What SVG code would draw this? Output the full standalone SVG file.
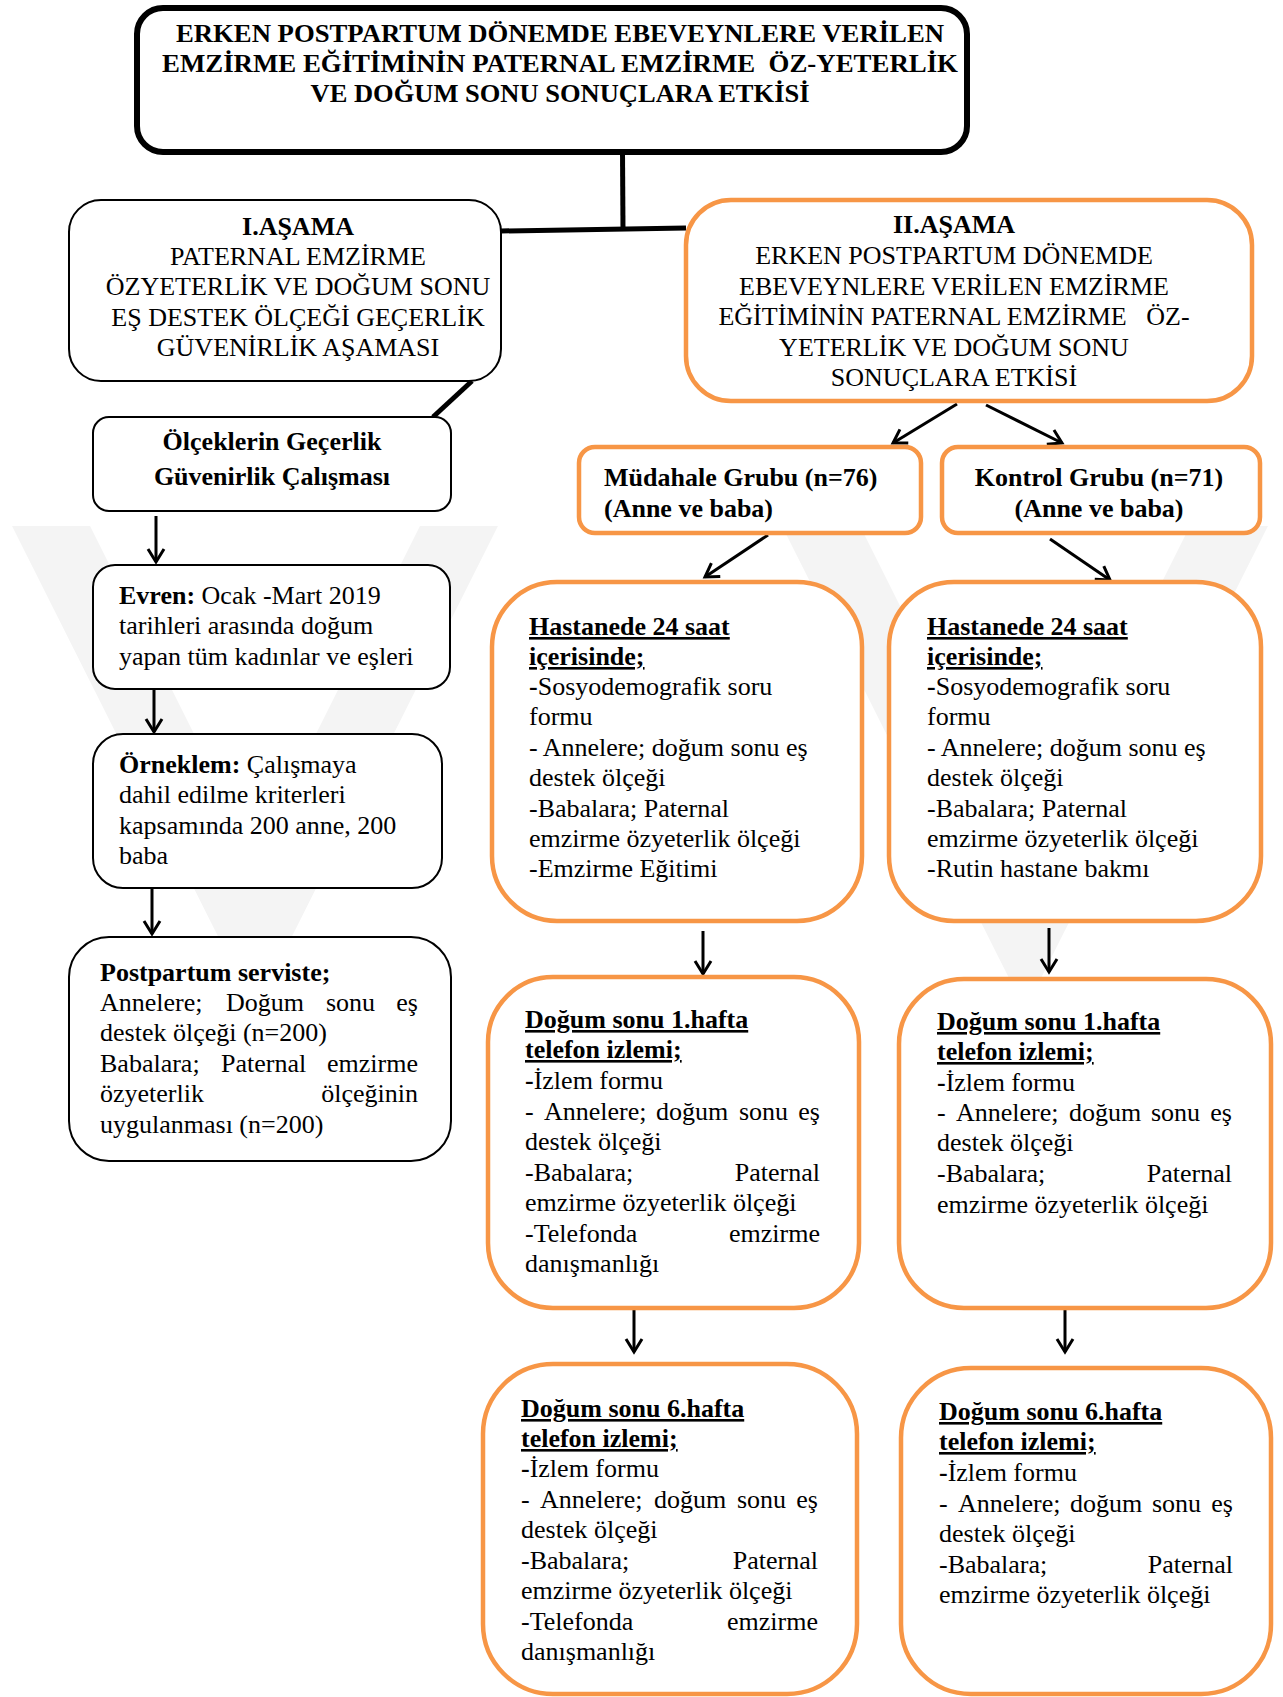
<svg xmlns="http://www.w3.org/2000/svg" width="1283" height="1697" viewBox="0 0 1283 1697">
<style>
.bk{fill:#fff;stroke:#000;stroke-width:2}
.tt{fill:#fff;stroke:#000;stroke-width:6}
.or{fill:#fff;stroke:#F79646;stroke-width:4.5}
.t{font-family:"Liberation Serif","Times New Roman",serif;font-size:26px;fill:#000}
.b{font-weight:bold}
.u{text-decoration:underline}
.c{text-anchor:middle}
.e{text-anchor:end}
.thick{stroke:#000;stroke-width:5;fill:none}
.ar{stroke:#000;stroke-width:3;fill:none;marker-end:url(#ah)}
.wm{fill:#f4f4f4}
</style>
<defs>
<marker id="ah" viewBox="0 0 20 20" refX="17" refY="10" markerWidth="20" markerHeight="20" markerUnits="userSpaceOnUse" orient="auto">
<path d="M4,2 L17,10 L4,18" fill="none" stroke="#000" stroke-width="3"/>
</marker>
</defs>
<rect width="1283" height="1697" fill="#fff"/>
<g id="watermark">
<polygon class="wm" points="12,526 90,526 255,856 420,526 498,526 255,1010"/>
<polygon class="wm" points="782,526 860,526 1025,856 1190,526 1268,526 1025,1010"/>
</g>
<g id="connectors">
<line class="thick" x1="622.5" y1="152" x2="623" y2="230"/>
<line class="thick" x1="501" y1="231" x2="686" y2="228"/>
<line class="thick" x1="472" y1="381" x2="433" y2="417"/>
<line class="ar" x1="156" y1="516" x2="156" y2="562"/>
<line class="ar" x1="154" y1="690" x2="154" y2="732"/>
<line class="ar" x1="152" y1="888" x2="152" y2="934"/>
<line class="ar" x1="957" y1="404" x2="893" y2="443"/>
<line class="ar" x1="986" y1="405" x2="1062" y2="443"/>
<line class="ar" x1="768" y1="535" x2="705" y2="577"/>
<line class="ar" x1="1050" y1="539" x2="1110" y2="580"/>
<line class="ar" x1="703" y1="931" x2="703" y2="974"/>
<line class="ar" x1="1049" y1="928" x2="1049" y2="972"/>
<line class="ar" x1="634" y1="1308" x2="634" y2="1352"/>
<line class="ar" x1="1065" y1="1308" x2="1065" y2="1352"/>
</g>
<g id="title">
<rect class="tt" x="137" y="8" width="830" height="144" rx="26"/>
<text class="t b c" x="560" y="42" textLength="768" lengthAdjust="spacingAndGlyphs">ERKEN POSTPARTUM DÖNEMDE EBEVEYNLERE VERİLEN</text>
<text class="t b c" x="560" y="72" textLength="796" lengthAdjust="spacingAndGlyphs" xml:space="preserve">EMZİRME EĞİTİMİNİN PATERNAL EMZİRME  ÖZ-YETERLİK</text>
<text class="t b c" x="560" y="102" textLength="499" lengthAdjust="spacingAndGlyphs">VE DOĞUM SONU SONUÇLARA ETKİSİ</text>
</g>
<g id="asama1">
<rect class="bk" x="69" y="200" width="432" height="181" rx="32"/>
<text class="t c" x="298" y="235"><tspan class="b">I.AŞAMA</tspan></text>
<text class="t c" x="298" y="265">PATERNAL EMZİRME</text>
<text class="t c" x="298" y="295">ÖZYETERLİK VE DOĞUM SONU</text>
<text class="t c" x="298" y="326">EŞ DESTEK ÖLÇEĞİ GEÇERLİK</text>
<text class="t c" x="298" y="356">GÜVENİRLİK AŞAMASI</text>
</g>
<g id="olcek">
<rect class="bk" x="93" y="417" width="358" height="94" rx="16"/>
<text class="t b c" x="272" y="450">Ölçeklerin Geçerlik</text>
<text class="t b c" x="272" y="485">Güvenirlik Çalışması</text>
</g>
<g id="evren">
<rect class="bk" x="93" y="565" width="357" height="124" rx="22"/>
<text class="t" x="119" y="604"><tspan class="b">Evren:</tspan> Ocak -Mart 2019</text>
<text class="t" x="119" y="634">tarihleri arasında doğum</text>
<text class="t" x="119" y="665">yapan tüm kadınlar ve eşleri</text>
</g>
<g id="orneklem">
<rect class="bk" x="93" y="734" width="349" height="154" rx="30"/>
<text class="t" x="119" y="773"><tspan class="b">Örneklem:</tspan> Çalışmaya</text>
<text class="t" x="119" y="803">dahil edilme kriterleri</text>
<text class="t" x="119" y="834">kapsamında 200 anne, 200</text>
<text class="t" x="119" y="864">baba</text>
</g>
<g id="postpartum">
<rect class="bk" x="69" y="937" width="382" height="224" rx="40"/>
<text class="t b" x="100" y="981">Postpartum serviste;</text>
<text class="t" y="1011"><tspan x="100">Annelere;</tspan><tspan x="226">Doğum</tspan><tspan x="326">sonu</tspan></text>
<text class="t e" x="418" y="1011">eş</text>
<text class="t" x="100" y="1041">destek ölçeği (n=200)</text>
<text class="t" y="1072"><tspan x="100">Babalara;</tspan><tspan x="221">Paternal</tspan></text>
<text class="t e" x="418" y="1072">emzirme</text>
<text class="t" x="100" y="1102">özyeterlik</text>
<text class="t e" x="418" y="1102">ölçeğinin</text>
<text class="t" x="100" y="1133">uygulanması (n=200)</text>
</g>
<g id="asama2">
<rect class="or" x="686" y="200" width="566" height="201" rx="45"/>
<text class="t b c" x="954" y="233">II.AŞAMA</text>
<text class="t c" x="954" y="264">ERKEN POSTPARTUM DÖNEMDE</text>
<text class="t c" x="954" y="295">EBEVEYNLERE VERİLEN EMZİRME</text>
<text class="t c" x="954" y="325" xml:space="preserve">EĞİTİMİNİN PATERNAL EMZİRME   ÖZ-</text>
<text class="t c" x="954" y="356">YETERLİK VE DOĞUM SONU</text>
<text class="t c" x="954" y="386">SONUÇLARA ETKİSİ</text>
</g>
<g id="mudahale">
<rect class="or" x="579" y="447" width="342" height="86" rx="16"/>
<text class="t b" x="604" y="486">Müdahale Grubu (n=76)</text>
<text class="t b" x="604" y="517">(Anne ve baba)</text>
</g>
<g id="kontrol">
<rect class="or" x="942" y="447" width="318" height="86" rx="16"/>
<text class="t b c" x="1099" y="486">Kontrol Grubu (n=71)</text>
<text class="t b c" x="1099" y="517">(Anne ve baba)</text>
</g>
<g id="hastane1">
<rect class="or" x="492" y="582" width="370" height="339" rx="65"/>
<text class="t b u" x="529" y="635">Hastanede 24 saat</text>
<text class="t b u" x="529" y="665">içerisinde;</text>
<text class="t" x="529" y="695"><tspan class="b">-</tspan>Sosyodemografik soru</text>
<text class="t" x="529" y="725">formu</text>
<text class="t" x="529" y="756">- Annelere; doğum sonu eş</text>
<text class="t" x="529" y="786">destek ölçeği</text>
<text class="t" x="529" y="817">-Babalara; Paternal</text>
<text class="t" x="529" y="847">emzirme özyeterlik ölçeği</text>
<text class="t" x="529" y="877">-Emzirme Eğitimi</text>
</g>
<g id="hastane2">
<rect class="or" x="889" y="582" width="372" height="339" rx="65"/>
<text class="t b u" x="927" y="635">Hastanede 24 saat</text>
<text class="t b u" x="927" y="665">içerisinde;</text>
<text class="t" x="927" y="695"><tspan class="b">-</tspan>Sosyodemografik soru</text>
<text class="t" x="927" y="725">formu</text>
<text class="t" x="927" y="756">- Annelere; doğum sonu eş</text>
<text class="t" x="927" y="786">destek ölçeği</text>
<text class="t" x="927" y="817">-Babalara; Paternal</text>
<text class="t" x="927" y="847">emzirme özyeterlik ölçeği</text>
<text class="t" x="927" y="877">-Rutin hastane bakmı</text>
</g>
<g id="hafta1a">
<rect class="or" x="488" y="977" width="371" height="331" rx="65"/>
<text class="t b u" x="525" y="1028">Doğum sonu 1.hafta</text>
<text class="t b u" x="525" y="1058">telefon izlemi;</text>
<text class="t" x="525" y="1089"><tspan class="b">-</tspan>İzlem formu</text>
<text class="t" y="1120"><tspan x="525">-</tspan><tspan x="544">Annelere;</tspan><tspan x="656">doğum</tspan><tspan x="739">sonu</tspan></text>
<text class="t e" x="820" y="1120">eş</text>
<text class="t" x="525" y="1150">destek ölçeği</text>
<text class="t" x="525" y="1181">-Babalara;</text>
<text class="t e" x="820" y="1181">Paternal</text>
<text class="t" x="525" y="1211">emzirme özyeterlik ölçeği</text>
<text class="t" x="525" y="1242">-Telefonda</text>
<text class="t e" x="820" y="1242">emzirme</text>
<text class="t" x="525" y="1272">danışmanlığı</text>
</g>
<g id="hafta1b">
<rect class="or" x="899" y="979" width="372" height="329" rx="65"/>
<text class="t b u" x="937" y="1030">Doğum sonu 1.hafta</text>
<text class="t b u" x="937" y="1060">telefon izlemi;</text>
<text class="t" x="937" y="1091"><tspan class="b">-</tspan>İzlem formu</text>
<text class="t" y="1121"><tspan x="937">-</tspan><tspan x="956">Annelere;</tspan><tspan x="1069">doğum</tspan><tspan x="1151">sonu</tspan></text>
<text class="t e" x="1232" y="1121">eş</text>
<text class="t" x="937" y="1151">destek ölçeği</text>
<text class="t" x="937" y="1182">-Babalara;</text>
<text class="t e" x="1232" y="1182">Paternal</text>
<text class="t" x="937" y="1213">emzirme özyeterlik ölçeği</text>
</g>
<g id="hafta6a">
<rect class="or" x="483" y="1364" width="374" height="330" rx="70"/>
<text class="t b u" x="521" y="1417">Doğum sonu 6.hafta</text>
<text class="t b u" x="521" y="1447">telefon izlemi;</text>
<text class="t" x="521" y="1477"><tspan class="b">-</tspan>İzlem formu</text>
<text class="t" y="1508"><tspan x="521">-</tspan><tspan x="540">Annelere;</tspan><tspan x="654">doğum</tspan><tspan x="737">sonu</tspan></text>
<text class="t e" x="818" y="1508">eş</text>
<text class="t" x="521" y="1538">destek ölçeği</text>
<text class="t" x="521" y="1569">-Babalara;</text>
<text class="t e" x="818" y="1569">Paternal</text>
<text class="t" x="521" y="1599">emzirme özyeterlik ölçeği</text>
<text class="t" x="521" y="1630">-Telefonda</text>
<text class="t e" x="818" y="1630">emzirme</text>
<text class="t" x="521" y="1660">danışmanlığı</text>
</g>
<g id="hafta6b">
<rect class="or" x="901" y="1368" width="370" height="326" rx="70"/>
<text class="t b u" x="939" y="1420">Doğum sonu 6.hafta</text>
<text class="t b u" x="939" y="1450">telefon izlemi;</text>
<text class="t" x="939" y="1481"><tspan class="b">-</tspan>İzlem formu</text>
<text class="t" y="1512"><tspan x="939">-</tspan><tspan x="958">Annelere;</tspan><tspan x="1070">doğum</tspan><tspan x="1152">sonu</tspan></text>
<text class="t e" x="1233" y="1512">eş</text>
<text class="t" x="939" y="1542">destek ölçeği</text>
<text class="t" x="939" y="1573">-Babalara;</text>
<text class="t e" x="1233" y="1573">Paternal</text>
<text class="t" x="939" y="1603">emzirme özyeterlik ölçeği</text>
</g>
</svg>
